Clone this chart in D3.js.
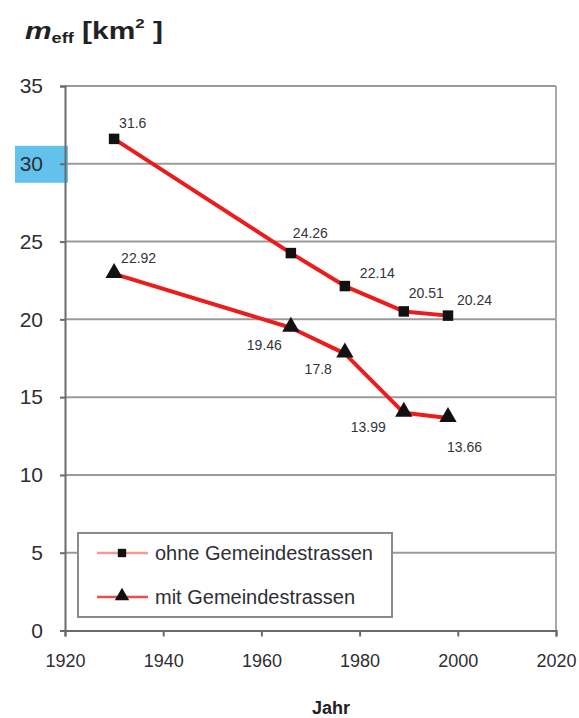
<!DOCTYPE html>
<html>
<head>
<meta charset="utf-8">
<script src="https://cdn.jsdelivr.net/npm/d3@7"></script>
<style>
  body { margin: 0; background: #fff; }
  svg { display: block; font-family: "Liberation Sans", Arial, sans-serif; }
</style>
</head>
<body>
<div id="chart"></div>
<script>
const width = 579;
const height = 718;

// data
const years = [1930, 1966, 1977, 1989, 1998];
const ohne = [31.6, 24.26, 22.14, 20.51, 20.24];
const mit = [22.92, 19.46, 17.8, 13.99, 13.66];
const xTicks = [1920, 1940, 1960, 1980, 2000, 2020];
const yTicks = [0, 5, 10, 15, 20, 25, 30, 35];
const seriesNames = ["ohne Gemeindestrassen", "mit Gemeindestrassen"];

// label placement (dx, dy, anchor) next to each point
const ohneLabelPos = [[5, -16, "start"], [2, -20, "start"], [15, -13, "start"], [5, -18, "start"], [9, -16, "start"]];
const mitLabelPos = [[7, -16, "start"], [-9, 17, "end"], [-13, 16, "end"], [-18, 14, "end"], [-1, 29, "start"]];

const margin = {left: 65, right: 23, top: 86, bottom: 88};

const svg = d3.select("#chart")
  .append("svg")
  .attr("width", width)
  .attr("height", height);

const x = d3.scaleLinear()
  .domain([1920, 2020])
  .range([margin.left, width - margin.right]);

const y = d3.scaleLinear()
  .domain([0, 35])
  .range([height - margin.bottom + 0.5, margin.top]);

// blue highlight behind the 30 label
svg.append("rect")
  .attr("x", 15).attr("y", y(30) - 18)
  .attr("width", 53).attr("height", 37)
  .attr("fill", "#62c2ec");

// gridlines
svg.append("g")
  .selectAll("line")
  .data(yTicks.filter(d => d > 0))
  .join("line")
    .attr("x1", x(1920)).attr("x2", x(2020))
    .attr("y1", d => y(d)).attr("y2", d => y(d))
    .attr("stroke", "#9a9a9a")
    .attr("stroke-width", 2);

// right border
svg.append("line")
  .attr("x1", x(2020)).attr("x2", x(2020))
  .attr("y1", y(35)).attr("y2", y(0))
  .attr("stroke", "#a8a8a8")
  .attr("stroke-width", 2);

// axes
const yAxis = svg.append("g")
  .attr("transform", `translate(${x(1920)},0)`)
  .call(d3.axisLeft(y).tickValues(yTicks).tickSize(5).tickPadding(17));
const xAxis = svg.append("g")
  .attr("transform", `translate(0,${y(0)})`)
  .call(d3.axisBottom(x).tickValues(xTicks).tickFormat(d3.format("d")).tickSize(6).tickPadding(18));

[yAxis, xAxis].forEach(a => {
  a.select(".domain").attr("stroke", "#6a6a6a").attr("stroke-width", 2);
  a.selectAll(".tick line").attr("stroke", "#6a6a6a").attr("stroke-width", 2);
  a.selectAll("text").attr("fill", "#2e2e33").attr("font-family", "Liberation Sans, Arial, sans-serif");
});
yAxis.selectAll("text").attr("font-size", 21);
xAxis.selectAll("text").attr("font-size", 18);

// lines
const line = d3.line()
  .x((d, i) => x(years[i]))
  .y(d => y(d));

[ohne, mit].forEach(s => {
  svg.append("path")
    .datum(s)
    .attr("d", line)
    .attr("fill", "none")
    .attr("stroke", "#ec1c1c")
    .attr("stroke-width", 4)
    .attr("stroke-linejoin", "round");
});

const square = d3.symbol().type(d3.symbolSquare).size(110);
const triangle = d3.symbol().type(d3.symbolTriangle).size(130);

svg.append("g")
  .selectAll("path")
  .data(ohne)
  .join("path")
    .attr("d", square)
    .attr("transform", (d, i) => `translate(${x(years[i])},${y(d)})`)
    .attr("fill", "#111");

svg.append("g")
  .selectAll("path")
  .data(mit)
  .join("path")
    .attr("d", triangle)
    .attr("transform", (d, i) => `translate(${x(years[i])},${y(d) - 1})`)
    .attr("fill", "#111");

// value labels
function labels(series, pos) {
  svg.append("g")
    .selectAll("text")
    .data(series)
    .join("text")
      .attr("x", (d, i) => x(years[i]) + pos[i][0])
      .attr("y", (d, i) => y(d) + pos[i][1])
      .attr("dy", "0.35em")
      .attr("text-anchor", (d, i) => pos[i][2])
      .attr("font-size", 14)
      .attr("fill", "#33343c")
      .text(d => d);
}
labels(ohne, ohneLabelPos);
labels(mit, mitLabelPos);

// legend
const legend = svg.append("g");
legend.append("rect")
  .attr("x", 78).attr("y", 533)
  .attr("width", 314).attr("height", 84)
  .attr("fill", "#fff")
  .attr("stroke", "#8a8a8a")
  .attr("stroke-width", 2);

const legendColors = ["#f29a94", "#ee4b4b"];
const legendSymbols = [square, triangle];
seriesNames.forEach((name, i) => {
  const ly = 553 + i * 44;
  legend.append("line")
    .attr("x1", 97).attr("x2", 148)
    .attr("y1", ly).attr("y2", ly)
    .attr("stroke", legendColors[i])
    .attr("stroke-width", 2.5);
  legend.append("path")
    .attr("d", legendSymbols[i].size(i === 0 ? 70 : 90)())
    .attr("transform", `translate(122,${ly - (i === 0 ? 0 : 1)})`)
    .attr("fill", "#111");
  legend.append("text")
    .attr("x", 155).attr("y", ly)
    .attr("dy", "0.35em")
    .attr("font-size", 20)
    .attr("fill", "#2e2e36")
    .text(name);
});

// axis titles
const title = svg.append("text")
  .attr("transform", "translate(25,39) scale(1.3,1)")
  .attr("font-weight", "bold")
  .attr("fill", "#222");
title.append("tspan").attr("font-style", "italic").attr("font-size", 23).text("m");
title.append("tspan").attr("font-size", 14).attr("dy", 4).text("eff");
title.append("tspan").attr("font-size", 23).attr("dy", -4).text(" [km");
title.append("tspan").attr("font-size", 13).attr("dy", -11).text("2");
title.append("tspan").attr("font-size", 23).attr("dy", 11).text(" ]");

svg.append("text")
  .attr("x", 331).attr("y", 708)
  .attr("dy", "0.35em")
  .attr("text-anchor", "middle")
  .attr("font-weight", "bold")
  .attr("font-size", 18)
  .attr("fill", "#222")
  .text("Jahr");
</script>
</body>
</html>
